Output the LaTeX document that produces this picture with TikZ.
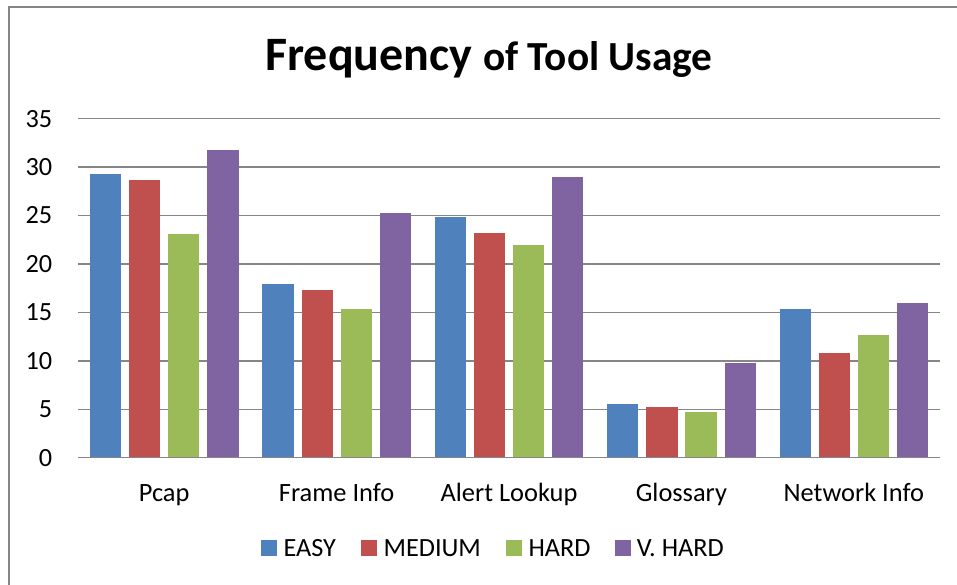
\documentclass[tikz,border=0pt]{standalone}
\usepackage{fontspec}
\setmainfont{Carlito}
\definecolor{cEasy}{HTML}{4F81BD}
\definecolor{cMed}{HTML}{C0504D}
\definecolor{cHard}{HTML}{9BBB59}
\definecolor{cVHard}{HTML}{8064A2}
\definecolor{gridgray}{HTML}{868686}
\tikzset{
  gridline/.style={draw=gridgray, line width=1.1pt},
  framebox/.style={draw=gridgray, line width=1.5pt},
  ticklabel/.style={anchor=east, inner sep=0pt, font=\fontsize{19.7}{23}\selectfont},
  catlabel/.style={anchor=base, inner sep=0pt, font=\fontsize{19.8}{23}\selectfont},
  leglabel/.style={anchor=base west, inner sep=0pt, font=\fontsize{19.7}{23}\selectfont},
  legsq/.style={minimum size=12pt, inner sep=0pt, anchor=west},
}
\begin{document}
\begin{tikzpicture}[x=0.75pt,y=-0.75pt]
\useasboundingbox (0,0) rectangle (957,585);
\fill[white] (0,0) rectangle (957,585);
% frame (cropped at right and bottom)
\coordinate (fbl) at (9,600);
\coordinate (ftr) at (970,7);
\draw[framebox] (fbl) |- (ftr);
% title
\node[anchor=base, inner sep=0pt] (title) at (489,70)
  {\fontsize{36}{42}\selectfont\bfseries Frequency \fontsize{31}{36}\selectfont of Tool Usage};
% gridlines and tick labels
\foreach \k in {0,...,7}{
  \pgfmathsetmacro{\yy}{457.7-48.43*\k}
  \pgfmathtruncatemacro{\lab}{5*\k}
  \coordinate (gl\k) at (78,\yy);
  \coordinate (gr\k) at (940,\yy);
  \draw[gridline] (gl\k) -- (gr\k);
  \node[ticklabel] (tick\k) at (52.5,\yy) {\lab};
}
% bars
\foreach \vals [count=\i from 0] in {
  {29.3,28.7,23.1,31.8},
  {17.9,17.35,15.35,25.3},
  {24.8,23.2,22.0,29.0},
  {5.55,5.2,4.7,9.75},
  {15.35,10.85,12.7,16.0}}{
  \foreach \v [count=\j from 0] in \vals {
    \pgfmathsetmacro{\xl}{90+172.4*\i+39.1*\j}
    \pgfmathsetmacro{\yt}{457.7-9.686*\v}
    \ifcase\j \def\bc{cEasy}\or \def\bc{cMed}\or \def\bc{cHard}\or \def\bc{cVHard}\fi
    \fill[\bc] (\xl,457.2) rectangle ++(31.2,\yt-457.2);
  }
}
\draw[gridline] (gl0) -- (gr0);
% category labels
\foreach \name [count=\i from 0] in {Pcap,Frame Info,Alert Lookup,Glossary,Network Info}{
  \node[catlabel] (cat\i) at (164.2+172.4*\i,501.7) {\name};
}
% legend
\node[legsq, fill=cEasy] (sqE) at (260.7,548) {};
\node[leglabel] (lE) at (283.3,556) {EASY};
\node[legsq, fill=cMed] (sqM) at (360.7,548) {};
\node[leglabel] (lM) at (383.3,556) {MEDIUM};
\node[legsq, fill=cHard] (sqH) at (505.7,548) {};
\node[leglabel] (lH) at (528.3,556) {HARD};
\node[legsq, fill=cVHard] (sqV) at (615,548) {};
\node[leglabel] (lV) at (636.7,556) {V. HARD};
\end{tikzpicture}
\end{document}
